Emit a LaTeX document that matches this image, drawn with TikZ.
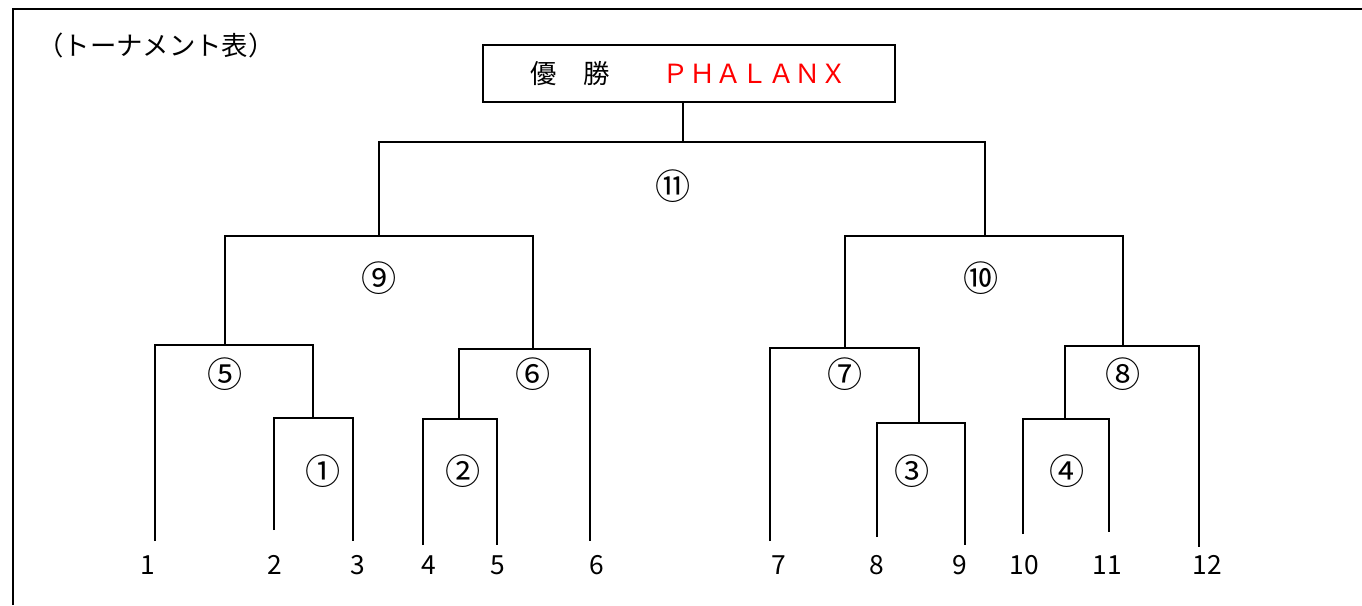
\documentclass[tikz,border=0pt]{standalone}
\usepackage{fontspec}
\setmainfont{Noto Sans CJK JP}
\usetikzlibrary{calc}
\newcommand{\bout}[5]{ \draw[line width=1.3pt] ( #1 , #4 ) |- ( #2 , #3 ) -- ( #2 , #5 );}
\newcommand{\seed}[3]{\node[inner sep=0pt] (#1) at ( #2 , 565 ) {#3};}
\newcommand{\boutno}[4]{\node[inner sep=0pt,font=\fontsize{20pt}{22pt}\selectfont] (#1) at ( #2 , #3 ) {#4};}

\begin{document}
\begin{tikzpicture}[x=0.02cm,y=-0.02cm,font=\fontsize{15pt}{18pt}\selectfont]
        \useasboundingbox (0,0) rectangle (1362,605);

        % frame
        \draw[line width=1.5pt] (13,605) -- (13,9) -- (1362,9);
        \node[anchor=west,inner sep=0pt] (head) at (37,45) {（トーナメント表）};

        % winner
        \node[draw,line width=1.3pt,minimum width=8.24cm,minimum height=1.14cm] (champ) at (689,73.5)
            {優　勝　　\textcolor{red}{ＰＨＡＬＡＮＸ}};
        \coordinate (top) at (683,142);
        \draw[line width=1.3pt] (champ.south -| top) -- (top);

        % final
        \bout{379}{985}{142}{236}{236}

        % semi finals
        \bout{225}{533}{236}{345}{349}
        \bout{845}{1123}{236}{348}{346}

        % second round
        \bout{155}{313}{345}{541}{418}
        \bout{459}{590}{349}{419}{541}
        \bout{770}{919}{348}{541}{423}
        \bout{1065}{1199}{346}{419}{547}

        % first round
        \bout{274}{353}{418}{530}{541}
        \bout{423}{497}{419}{545}{545}
        \bout{877}{965}{423}{537}{545}
        \bout{1023}{1109}{419}{534}{532}

        % match numbers
        \boutno{m11}{673}{186}{⑪}
        \boutno{m9}{379}{278}{⑨}
        \boutno{m10}{981}{278}{⑩}
        \boutno{m5}{225}{374}{⑤}
        \boutno{m6}{533}{374}{⑥}
        \boutno{m7}{845}{374}{⑦}
        \boutno{m8}{1123}{374}{⑧}
        \boutno{m1}{323}{471}{①}
        \boutno{m2}{463}{471}{②}
        \boutno{m3}{912}{471}{③}
        \boutno{m4}{1067}{471}{④}

        % seeds
        \seed{p1}{148}{1}
        \seed{p2}{275}{2}
        \seed{p3}{358}{3}
        \seed{p4}{429}{4}
        \seed{p5}{498}{5}
        \seed{p6}{597}{6}
        \seed{p7}{779}{7}
        \seed{p8}{877}{8}
        \seed{p9}{960}{9}
        \seed{p10}{1024}{10}
        \seed{p11}{1107}{11}
        \seed{p12}{1207}{12}

    \end{tikzpicture}
\end{document}
